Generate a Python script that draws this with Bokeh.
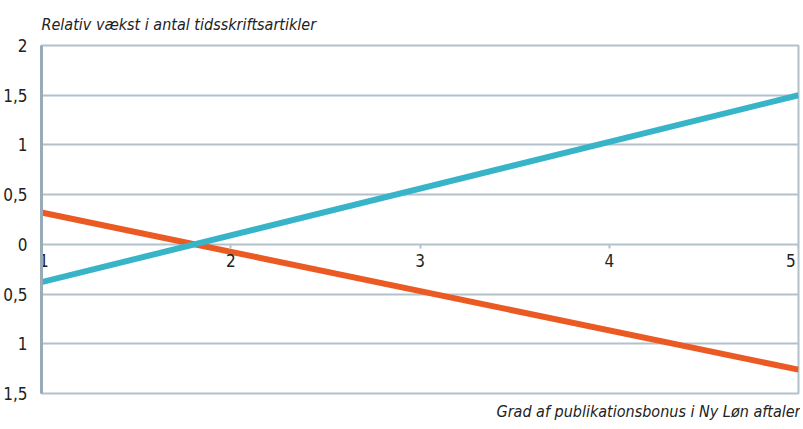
from bokeh.plotting import figure
from bokeh.models import LinearAxis, Range1d, FixedTicker, Title, AllLabels
from bokeh.embed import file_html
from bokeh.resources import INLINE

# Data
x_vals = [1, 5]
blue_vals = [-0.38, 1.5]
orange_vals = [0.32, -1.26]
y_ticks = [-1.5, -1, -0.5, 0, 0.5, 1, 1.5, 2]
y_tick_labels = ["1,5", "1", "0,5", "0", "0,5", "1", "1,5", "2"]
x_ticks = [1, 2, 3, 4, 5]
x_tick_labels = ["1", "2", "3", "4", "5"]
title_text = "Relativ vækst i antal tidsskriftsartikler"
xlabel_text = "Grad af publikationsbonus i Ny Løn aftaler"

FONT = "'DejaVu Sans Condensed', Roboto, sans-serif"
GRID = "#b3c1cb"
SPINE = "#9aabb8"
TEXT = "#222222"

p = figure(width=800, height=426, output_backend="svg", toolbar_location=None,
           x_range=Range1d(1, 5), y_range=Range1d(-1.5, 2),
           x_axis_type=None, y_axis_location="left",
           min_border_left=39, min_border_right=2, min_border_top=44, min_border_bottom=31)

p.title.text = title_text
p.title.text_font = FONT
p.title.text_font_style = "italic"
p.title.text_font_size = "16px"
p.title.text_color = TEXT
p.title.align = "left"
p.title.offset = 0
p.title.standoff = 24

p.background_fill_color = "white"
p.border_fill_color = "white"
p.outline_line_color = GRID
p.outline_line_width = 2

# y axis
ya = p.yaxis[0]
ya.ticker = FixedTicker(ticks=y_ticks)
ya.major_label_overrides = {t: l for t, l in zip(y_ticks, y_tick_labels)}
ya.axis_line_color = SPINE
ya.axis_line_width = 3
ya.major_tick_line_color = None
ya.minor_tick_line_color = None
ya.major_label_text_font = FONT
ya.major_label_text_font_size = "17px"
ya.major_label_text_color = TEXT
ya.major_label_standoff = 8

p.ygrid.ticker = FixedTicker(ticks=y_ticks)
p.ygrid.grid_line_color = GRID
p.ygrid.grid_line_width = 2
p.xgrid.grid_line_color = None

# x axis drawn at y=0 (edge labels padded so they stay inside the frame)
NB = "\u00a0"
x_label_map = {}
for t, l in zip(x_ticks, x_tick_labels):
    if t == x_ticks[0]:
        x_label_map[t] = NB + l
    elif t == x_ticks[-1]:
        x_label_map[t] = l + NB
    else:
        x_label_map[t] = l

xa = LinearAxis(fixed_location=0)
xa.ticker = FixedTicker(ticks=x_ticks)
xa.major_label_overrides = x_label_map
xa.major_label_policy = AllLabels()
xa.axis_line_color = None
xa.major_tick_line_color = GRID
xa.major_tick_line_width = 2
xa.major_tick_out = 4
xa.major_tick_in = 0
xa.minor_tick_line_color = None
xa.major_label_text_font = FONT
xa.major_label_text_font_size = "17px"
xa.major_label_text_color = TEXT
xa.major_label_standoff = 3
p.add_layout(xa, "below")

p.line(x_vals, orange_vals, line_color="#ec5a24", line_width=6)
p.line(x_vals, blue_vals, line_color="#38b4c9", line_width=6)

xl = Title(text=xlabel_text, align="right", text_font=FONT, text_font_style="italic",
           text_font_size="16px", text_color=TEXT, standoff=12, offset=-2)
p.add_layout(xl, "below")

open("out.html", "w").write(file_html(p, INLINE))
